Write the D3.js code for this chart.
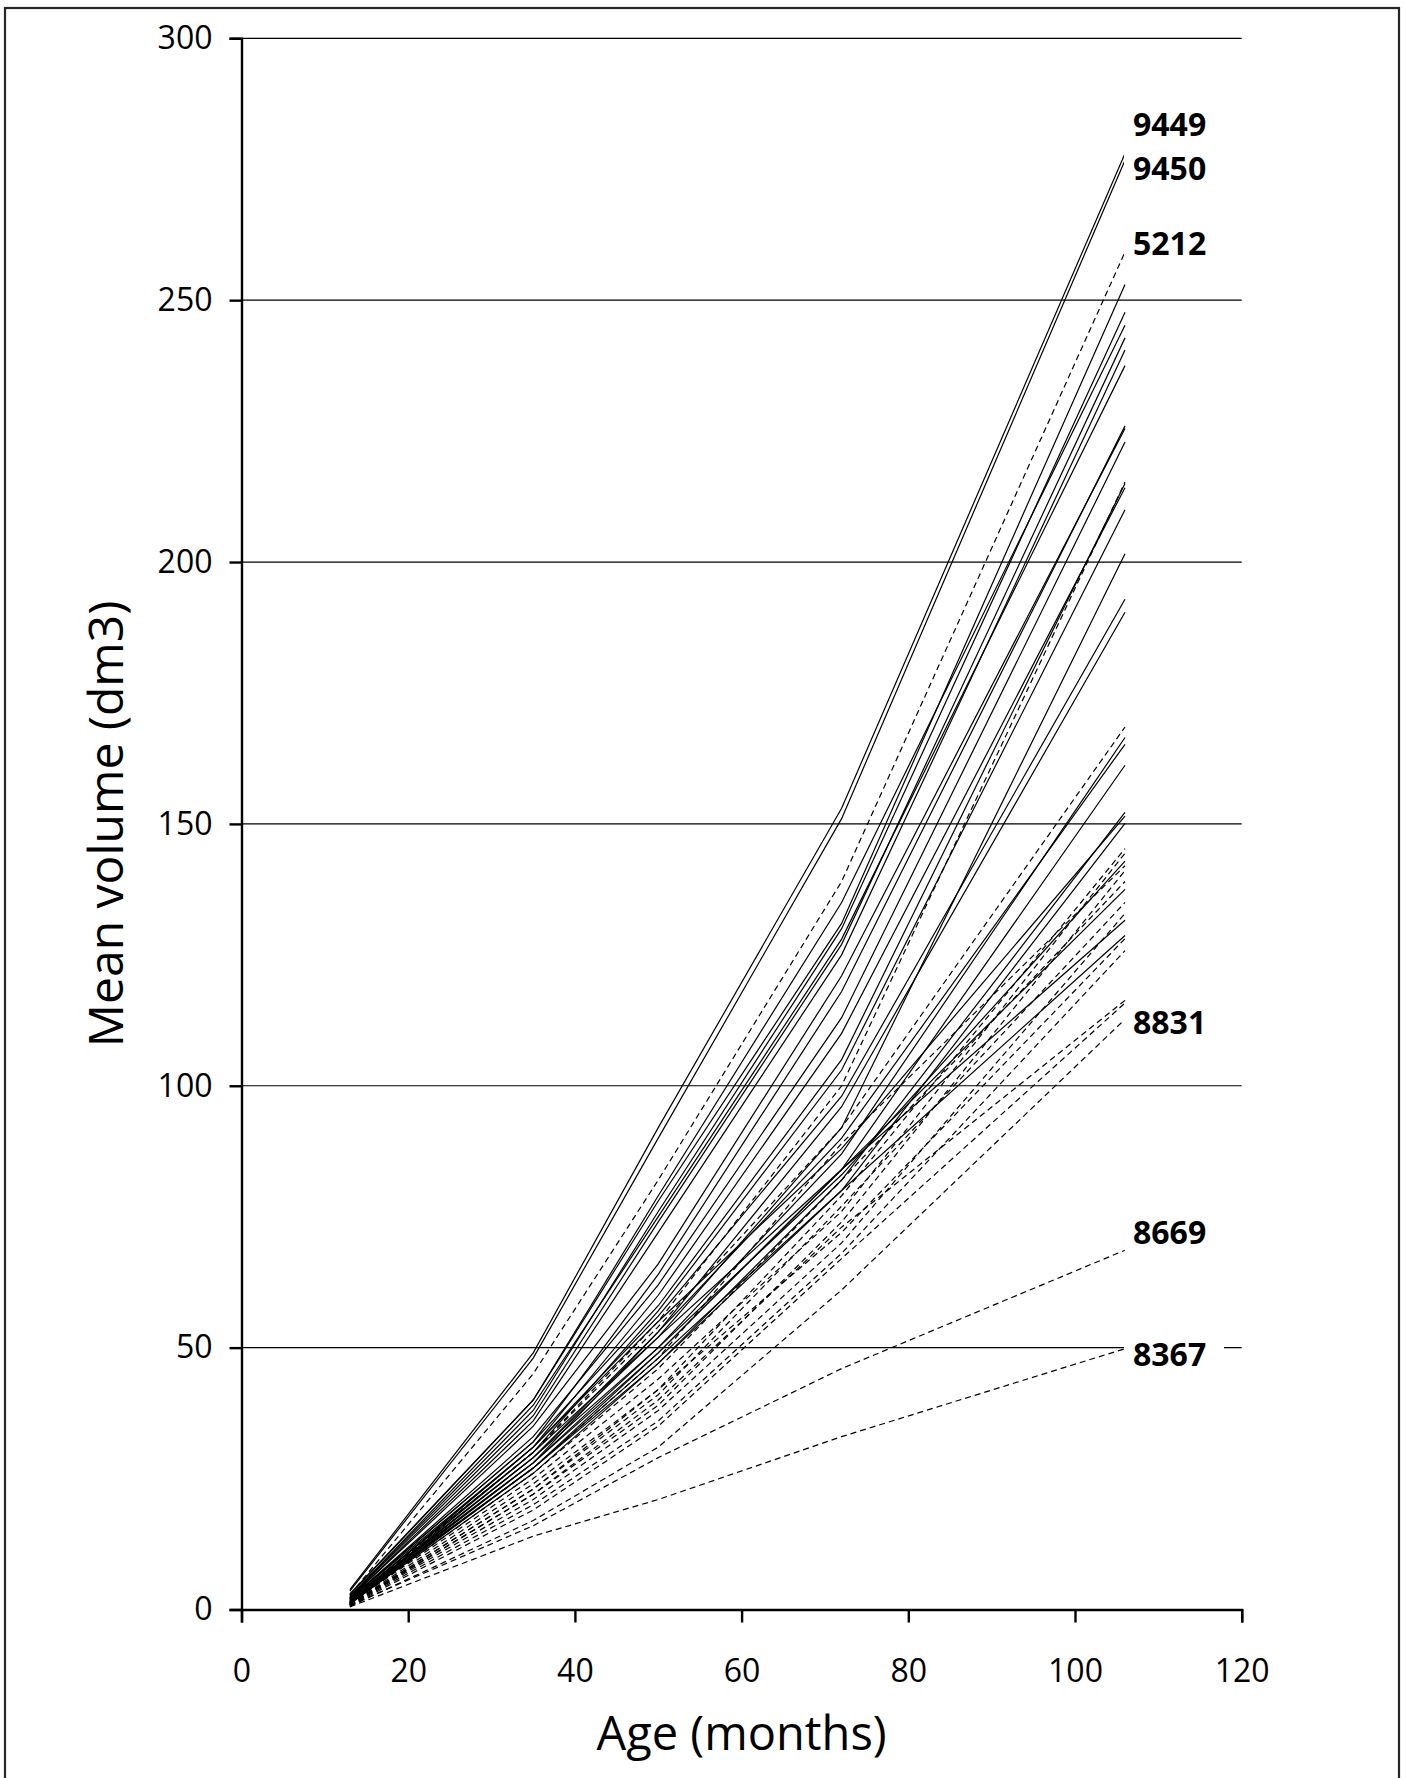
<!DOCTYPE html>
<html>
<head>
<meta charset="utf-8">
<script src="https://cdn.jsdelivr.net/npm/d3@7"></script>
<style>
  html, body { margin: 0; padding: 0; background: #fff; }
  svg { display: block; }
  text { font-family: "Open Sans", "Noto Sans", sans-serif; fill: #000; }
</style>
</head>
<body>
<svg id="chart" width="1406" height="1778"></svg>
<script>
// Measurement ages (months)
const ages = [13, 35, 50, 72, 106];

// Mean volume (dm3) per individual at each age
const volumes = [
  [3.8, 49, 92, 153, 278],
  [3.5, 48, 90, 151, 276.7],
  [2.8, 45, 82, 139, 259.2],
  [3.0, 40, 78, 131, 253],
  [2.5, 38, 76, 130, 247.7],
  [2.8, 40, 79, 135, 245.2],
  [2.4, 37, 74, 127, 242.8],
  [2.2, 36, 72, 125, 240.5],
  [2.5, 39, 75, 128, 237.5],
  [2.0, 32, 64, 118, 226],
  [2.2, 35, 66, 121, 225.5],
  [2.0, 33, 62, 113, 222.9],
  [1.8, 30, 55, 100, 215.3],
  [2.1, 32, 58, 105, 215],
  [2.0, 31, 60, 110, 214.2],
  [1.8, 30, 57, 103, 210],
  [1.6, 29, 52, 92, 201.6],
  [1.5, 31, 56, 98, 192.9],
  [1.7, 28, 53, 96, 190.4],
  [1.6, 30, 54, 92, 168.5],
  [1.5, 28, 50, 87, 166.5],
  [1.4, 29, 53, 90, 165.2],
  [1.6, 27, 49, 84, 161.2],
  [1.2, 26, 47, 82, 152.2],
  [1.4, 31, 55, 88, 151.5],
  [1.3, 27, 48, 80, 150.1],
  [1.0, 24, 42, 79, 145.3],
  [1.2, 25, 44, 76, 144.4],
  [1.3, 29, 50, 83, 142.9],
  [1.0, 22, 39, 74, 141.1],
  [1.1, 28, 49, 84, 137.5],
  [0.9, 21, 38, 70, 132.9],
  [1.2, 30, 52, 84, 131.6],
  [1.0, 27, 47, 80, 128.7],
  [0.9, 23, 42, 72, 128.1],
  [0.8, 20, 36, 68, 125.8],
  [0.8, 22, 40, 73, 116.3],
  [0.7, 19, 35, 67, 115.8],
  [0.6, 17, 31, 61, 112.7],
  [0.8, 16, 29, 46, 68.6],
  [0.5, 14, 21, 33, 49.8],
  [1.1, 26, 46, 82, 139],
  [0.9, 23, 41, 77, 135],
  [1.2, 27, 48, 89, 142]
];

// Group of each individual (A drawn solid, B drawn dashed)
const groups = [
  "A","A","B","A","A","A","A","A","A","A","A","A","B","A","A","A","A","A","A","B",
  "A","A","A","A","A","A","B","B","A","B","A","B","A","A","B","B","B","B","B","B",
  "B","B","B","B"
];

// Identifiers shown beside selected individuals (index into volumes)
const labelIds   = ["9449", "9450", "5212", "8831", "8669", "8367"];
const labelIndex = [0, 1, 2, 38, 39, 40];

const yTicks = [0, 50, 100, 150, 200, 250, 300];
const xTicks = [0, 20, 40, 60, 80, 100, 120];

const svg = d3.select("#chart");

const x = d3.scaleLinear().domain([0, 120]).range([241.5, 1241.7]);
const y = d3.scaleLinear().domain([0, 300]).range([1609.5, 38.3]);

// outer frame
svg.append("rect")
  .attr("x", 5).attr("y", 8)
  .attr("width", 1394).attr("height", 1800)
  .attr("fill", "none").attr("stroke", "#262626").attr("stroke-width", 2.2);

// horizontal gridlines
svg.append("g")
  .selectAll("line")
  .data(yTicks.filter(d => d > 0))
  .join("line")
  .attr("x1", x(0)).attr("x2", x(120))
  .attr("y1", d => y(d)).attr("y2", d => y(d))
  .attr("stroke", "#000").attr("stroke-width", 1.2);

// series
const line = d3.line()
  .x((d, i) => x(ages[i]))
  .y(d => y(d));

svg.append("g")
  .selectAll("path")
  .data(volumes)
  .join("path")
  .attr("d", d => line(d))
  .attr("fill", "none")
  .attr("stroke", "#000")
  .attr("stroke-width", 1.2)
  .attr("stroke-dasharray", (d, i) => groups[i] === "B" ? "6,4" : null);

// axes
const yAxis = d3.axisLeft(y).tickValues(yTicks).tickSize(12).tickPadding(17).tickFormat(d3.format("d"));
const xAxis = d3.axisBottom(x).tickValues(xTicks).tickSize(13).tickPadding(37).tickFormat(d3.format("d"));

const gy = svg.append("g").attr("transform", `translate(${x(0)},0)`).call(yAxis);
const gx = svg.append("g").attr("transform", `translate(0,${y(0)})`).call(xAxis);

[gy, gx].forEach(g => {
  g.select(".domain").attr("stroke", "#000").attr("stroke-width", 2.4);
  g.selectAll(".tick line").attr("stroke", "#000").attr("stroke-width", 2.4);
  g.selectAll(".tick text")
    .attr("font-family", "'Open Sans', sans-serif")
    .attr("font-size", 32)
    .attr("fill", "#000");
});

// axis titles
svg.append("text")
  .attr("x", (x(0) + x(120)) / 2)
  .attr("y", 1750)
  .attr("text-anchor", "middle")
  .attr("font-size", 47)
  .text("Age (months)");

svg.append("text")
  .attr("transform", `translate(123,${(y(0) + y(300)) / 2}) rotate(-90)`)
  .attr("text-anchor", "middle")
  .attr("font-size", 48)
  .text("Mean volume (dm3)");

// identifier labels, nudged apart where ends crowd together
const labelNudge = [-29, 8, -9, 3, -18, 6];
const lab = svg.append("g")
  .selectAll("g")
  .data(labelIds)
  .join("g")
  .attr("transform", (d, i) => {
    const v = volumes[labelIndex[i]][ages.length - 1];
    return `translate(1133,${y(v) + labelNudge[i]})`;
  });

lab.append("rect")
  .attr("x", -9).attr("y", -18)
  .attr("width", 100).attr("height", 36)
  .attr("fill", "#fff");

lab.append("text")
  .attr("x", 0)
  .attr("dy", "0.36em")
  .attr("font-size", 32)
  .attr("font-weight", "bold")
  .text(d => d);
</script>
</body>
</html>
